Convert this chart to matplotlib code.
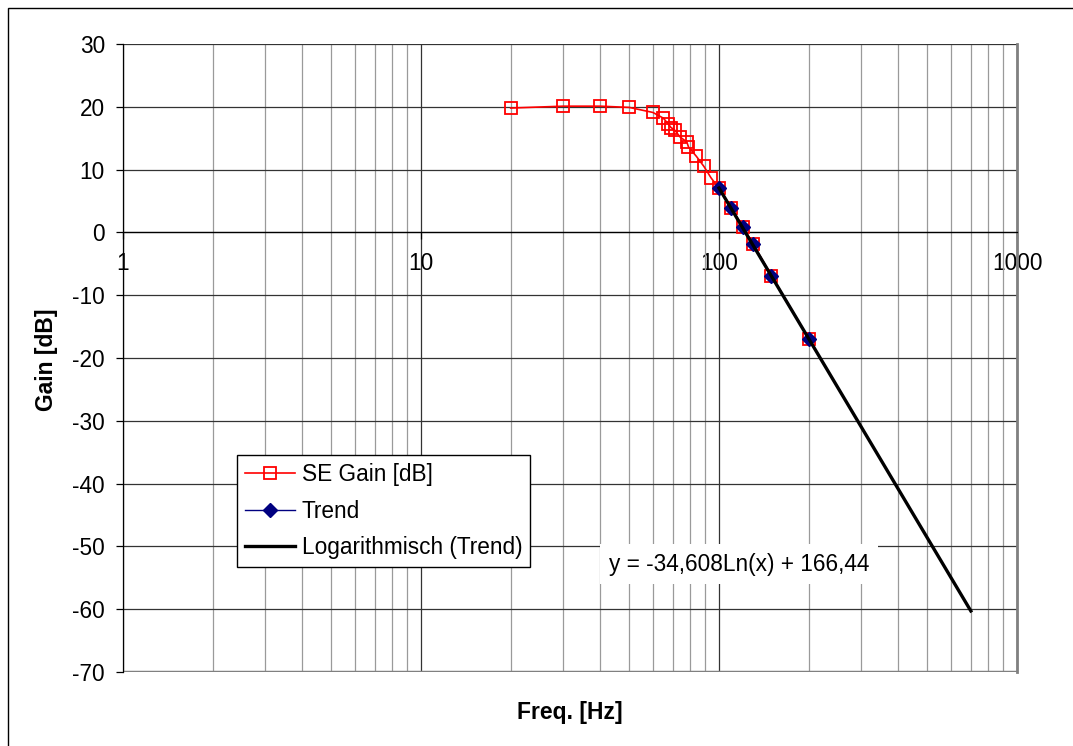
import numpy as np
import matplotlib as mpl
import matplotlib.pyplot as plt
from matplotlib.patches import Rectangle

mpl.rcParams.update({
    "font.family": "sans-serif",
    "font.sans-serif": ["Liberation Sans", "DejaVu Sans"],
    "axes.unicode_minus": False,
})

# measured gain of the SE stage
freq = [20, 30, 40, 50, 60, 65, 67.5, 69, 71, 74, 78, 79, 84, 89, 94,
        100, 110, 120, 130, 150, 200]
gain = [19.8, 20.1, 20.1, 19.9, 19.1, 18.2, 17.3, 16.7, 16.3, 15.2, 14.4,
        13.6, 12.1, 10.5, 8.7, 7.0, 3.9, 0.9, -1.8, -6.9, -16.9]

# points used for the trend
trend_freq = [100, 110, 120, 130, 150, 200]
trend_gain = [7.0, 3.9, 0.9, -1.8, -6.9, -16.9]

# Excel logarithmic trendline y = a*ln(x) + b, forecast to 700 Hz
fit_a, fit_b = -34.608, 166.44
fit_range = [100, 700]
eq_text = "y = -34,608Ln(x) + 166,44"

FS = 16.3
W, H = 1073, 746
fig = plt.figure(figsize=(W / 100, H / 100), dpi=100)
ax = fig.add_axes([123 / W, 1 - 672 / H, (1017 - 123) / W, (672 - 44) / H])

ax.plot(freq, gain, "-s", color="#FF0000", lw=1.2, ms=8.5, mfc="none",
        mec="#FF0000", mew=1.3, label="SE Gain [dB]", zorder=3)
ax.plot(trend_freq, trend_gain, "-D", color="#000080", lw=1.0, ms=7,
        mfc="#000080", mec="#000080", label="Trend", zorder=4)
xf = np.geomspace(fit_range[0], fit_range[1], 50)
ax.plot(xf, fit_a * np.log(xf) + fit_b, color="black", lw=2.4,
        label="Logarithmisch (Trend)", zorder=5)

ax.set_xscale("log")
ax.set_xlim(1, 1000)
ax.set_ylim(-70, 30)
ax.set_yticks(range(-70, 31, 10))
ax.set_xticks([1, 10, 100, 1000])
ax.set_xticklabels(["1", "10", "100", "1000"])
ax.xaxis.set_minor_formatter(mpl.ticker.NullFormatter())
ax.tick_params(axis="x", which="minor", length=0)

# grid: dark major lines, grey minor verticals
ax.grid(True, which="major", axis="y", color="#333333", lw=0.9)
ax.grid(True, which="major", axis="x", color="#333333", lw=0.9)
ax.grid(True, which="minor", axis="x", color="#9a9a9a", lw=0.9)
ax.set_axisbelow(True)

ax.spines["bottom"].set_position(("data", 0))
ax.spines["bottom"].set_linewidth(0.9)
ax.spines["left"].set_linewidth(0.9)
ax.spines["top"].set_visible(False)
ax.spines["right"].set_color("#808080")
ax.spines["right"].set_linewidth(2)
ax.axhline(-70, color="#808080", lw=2.5, zorder=2)

ax.tick_params(axis="both", which="major", labelsize=FS, direction="out",
               length=5, width=0.9)
ax.tick_params(axis="x", which="major", pad=9)
ax.tick_params(axis="y", which="major", pad=8)

fig.text(47 / W, 1 - 360 / H, "Gain [dB]", rotation=90, fontsize=16.5,
         fontweight="bold", ha="center", va="center")
fig.text(570 / W, 1 - 713 / H, "Freq. [Hz]", fontsize=16.5,
         fontweight="bold", ha="center", va="center")

ax.text(739 / W, 1 - 564 / H, eq_text, transform=fig.transFigure,
        fontsize=FS, ha="center", va="center", zorder=6,
        bbox=dict(facecolor="white", edgecolor="none", pad=6))

leg = ax.legend(loc="upper left", bbox_to_anchor=((237 - 123) / 894, (672 - 455) / 628),
                borderaxespad=0, fontsize=FS, frameon=True, fancybox=False,
                edgecolor="black", framealpha=1, handlelength=2.2,
                handletextpad=0.3, labelspacing=0.6, borderpad=0.35)
leg.get_frame().set_linewidth(1.0)
leg.set_zorder(7)

fig.add_artist(Rectangle((8 / W, -0.05), 1.05, 1 - 8 / H + 0.05,
                         transform=fig.transFigure, fill=False,
                         edgecolor="black", lw=1.0))

fig.savefig("out.png", dpi=100)
